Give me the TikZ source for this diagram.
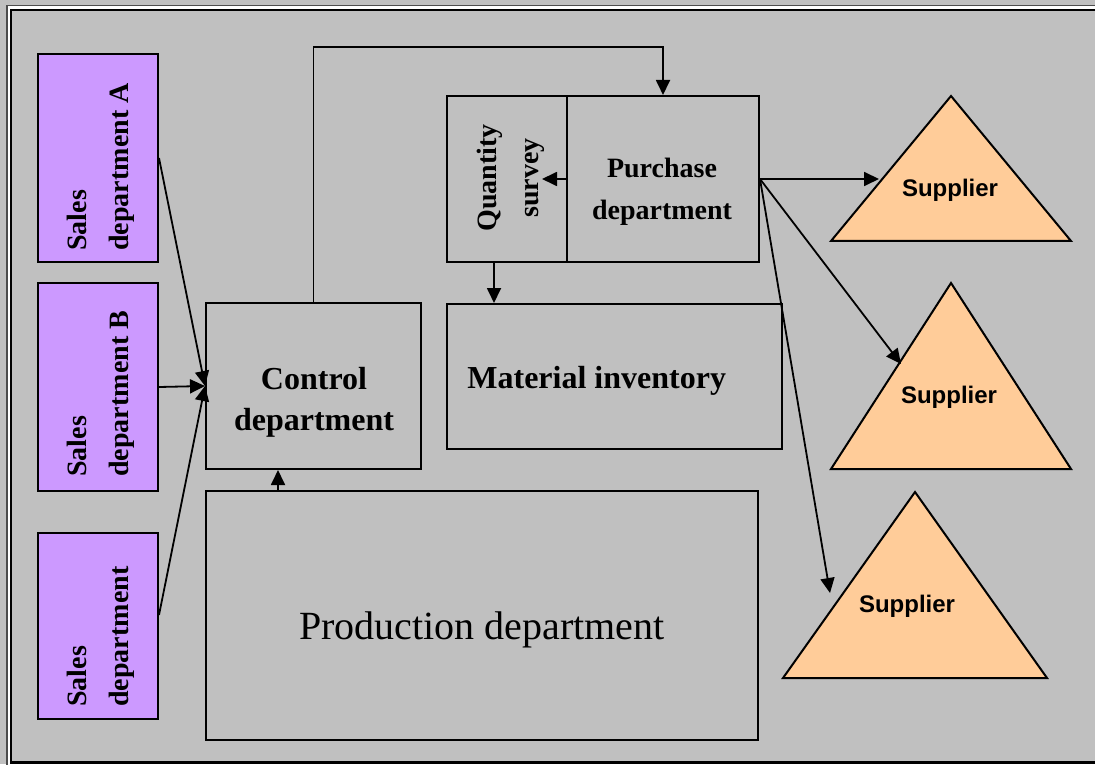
\documentclass[tikz,border=0pt]{standalone}
\usepackage{fontspec}
\setmainfont{Liberation Serif}
\newfontfamily\supfont{Liberation Sans}
\usetikzlibrary{arrows.meta,fit}
\definecolor{bggray}{HTML}{C0C0C0}
\definecolor{salesviolet}{HTML}{CC99FF}
\definecolor{supplierpeach}{HTML}{FFCC99}
\begin{document}
\begin{tikzpicture}[x=0.5pt,y=-0.5pt,
  box/.style={draw=black, line width=1pt, fill=bggray, inner sep=0pt},
  salesbox/.style={box, fill=salesviolet},
  lbl/.style={font=\bfseries\fontsize{14}{21}\selectfont, align=center, inner sep=0pt},
  biglbl/.style={font=\bfseries\fontsize{16}{20.5}\selectfont, align=center, inner sep=0pt},
  suplbl/.style={font=\supfont\bfseries\fontsize{12}{14}\selectfont, inner sep=0pt},
  arr/.style={line width=0.9pt, -{Triangle[length=7.5pt,width=7pt]}},
  supplier/.style={draw=black, line width=1pt, fill=supplierpeach, line join=miter}]

% page and background
\useasboundingbox (0,0) rectangle (1095,764);
\clip (0,0) rectangle (1095,764);
\fill[bggray] (0,0) rectangle (1095,764);

% double frame (right side runs off the page)
\draw[black!70, line width=0.65pt] (7,5.7) rectangle (1130,780);
\draw[white, line width=1.15pt] (8.8,7.5) rectangle (1126,776);
\draw[black, line width=1.2pt] (11.2,10) rectangle (1120,762.5);

% sales departments
\node[salesbox, fit={(38,54) (158,262)}] (sa) {};
\node[salesbox, fit={(38,283) (158,491)}] (sb) {};
\node[salesbox, fit={(38,533) (158,719)}] (sc) {};
\node[lbl, rotate=90, align=left, anchor=west] (saT) at (101,251) {Sales\\department A};
\node[lbl, rotate=90, align=left, anchor=west] (sbT) at (101,477) {Sales\\department B};
\node[lbl, rotate=90, align=left, anchor=west] (scT) at (101,707) {Sales\\department};

% central departments
\node[box, fit={(206,303) (421,469)}] (ctrl) {};
\node[box, fit={(206,491) (758,740)}] (prod) {};
\node[box, fit={(447,96) (567,262)}] (qty) {};
\node[box, fit={(567,96) (759,262)}] (pur) {};
\node[box, fit={(447,304) (782,449)}] (mat) {};

\node[biglbl] (ctrlT) at (314,402) {Control\\department};
\node[font=\fontsize{20}{24}\selectfont, inner sep=0pt] (prodT) at (482,630) {Production department};
\node[lbl, rotate=90] (qtyT) at (511,178) {Quantity\\survey};
\node[lbl] (purT) at (662,192) {Purchase\\department};
\node[biglbl, anchor=base west] (matT) at (467,388) {Material inventory};

% suppliers
\draw[supplier] (831,241) -- (951,96) -- (1071,241) -- cycle;
\draw[supplier] (831,469) -- (951,283) -- (1071,469) -- cycle;
\draw[supplier] (783,678) -- (915,492) -- (1047,678) -- cycle;
\node[suplbl] (sup1) at (950,190) {Supplier};
\node[suplbl] (sup2) at (949,397) {Supplier};
\node[suplbl] (sup3) at (907,606) {Supplier};
\coordinate (t1) at (879,179);
\coordinate (t2) at (901,364);
\coordinate (t3) at (830,593);

% connectors
\draw[arr] (sa.east) -- (ctrl.west);
\draw[arr] (sb.east) -- (ctrl.west);
\draw[arr] ([yshift=5.5pt]sc.east) -- (ctrl.west);
\draw[arr] ([xshift=36.5pt]prod.north west) -- ([xshift=36.5pt]prod.north west |- ctrl.south);
\coordinate (bend) at (663,47);
\draw[arr] (ctrl.north) |- (bend) -- (pur.north);
\draw[arr] (pur.west) -- ++(-24,0);
\draw[arr] ([xshift=24pt]qty.south west) -- ([xshift=24pt]qty.south west |- mat.north);
\draw[arr] (pur.east) -- (t1);
\draw[arr] (pur.east) -- (t2);
\draw[arr] (pur.east) -- (t3);
\end{tikzpicture}
\end{document}
